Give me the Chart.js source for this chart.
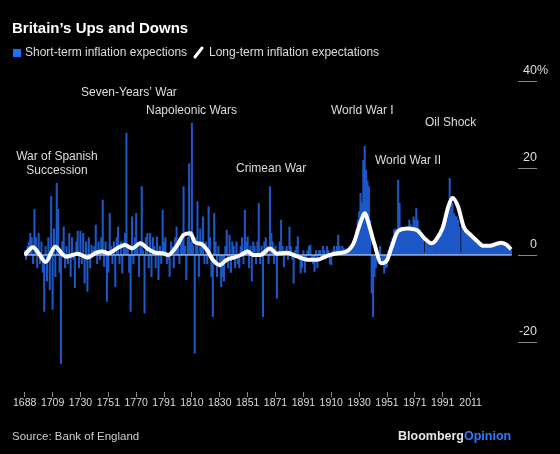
<!DOCTYPE html>
<html>
<head>
<meta charset="utf-8">
<script src="https://cdn.jsdelivr.net/npm/chart.js@4.4.1/dist/chart.umd.min.js"></script>
<style>
  html, body { margin: 0; padding: 0; background: #000; }
  #wrap { position: relative; width: 560px; height: 454px; }
</style>
</head>
<body>
<div id="wrap"><canvas id="chart"></canvas></div>
<script>
// x labels, one every 20 bars
const tickYears = ['1688', '1709', '1730', '1751', '1770', '1791', '1810', '1830', '1851',
  '1871', '1891', '1910', '1930', '1951', '1971', '1991', '2011'];
const yTicks = [-20, 0, 20, 40];

// short-term inflation expectations (%), one bar each
const shortTerm = [
  1, -1, 2, 3, 5, 4, -2, 10.5, 4, -3,
  5, -2, 3, -4, -13, 2, -6, 4, -8, 13.5,
  -12.5, 6, -5, 16.5, 10.5, -4, -25, 3, 6.5, -3,
  2, -2, 5, -5, 4, -1, -7.5, 3, 5.5, -3,
  5.5, -2, 5, -6.5, 3, -8.4, 4, -3, 2.3, 1,
  2, 6.9, -2, 3, -1, 4, 12.6, -2.7, 3, -10.7,
  -4, 9.6, 2, -2, 3, -7.3, 4, 6.5, -2, 3,
  -4.2, 3, 5, 28, 2, -4, -13, 8.8, -2, 4,
  9.6, 2, -5, 3, 15.7, 1, -13.4, 4, 5, -3,
  5, -5, 4, 2, -3, 4.2, -5.7, 2, -2, 10.3,
  3, 4, -2, -1, -5, 3, 2, -3, 4, 6.5,
  2, -2, 3, 5, 15.7, 2, -5.7, 4, 21, 3,
  30.3, 2, -22.6, 4, 12.3, -5, 6, 3, 8.8, -2,
  3, -2, 11.1, 4, -5, -14.2, 9.6, 3, -5, 2,
  -3, -7.3, -5, -6, 2, 5.7, -3, 4.6, -4, 3,
  2, -3, 3, -2, -3, 2, 4, -2, 10.3, 3,
  4.2, -3, 2, -6, 3, 2, -2, 3, 11.9, -2,
  2, -14.2, 3, 4, 2, -2, 15.7, 5, 3, -2,
  2, -10, 1, 3, 8, 2, -2.7, 1, 2, -1,
  6.5, 2, -1, -6.5, 1, 2, 4.2, -1, -4.2, -3,
  1, -4, -1, 1, 2, 2.3, -1, -2, -3.8, 1,
  -3, 1, 1, -1, 2, 1, -1, 2, 1, -2,
  -2.3, 1, 2, 1, 2, 4.6, 2, 1, 2, 1.5,
  1, 1.5, 1, 2, 1, 2, 3, 4.2, 5.7, 8,
  10, 14.2, 12, 21.8, 25, 19.5, 17, 15.7, 8, -8.8,
  -14.2, -5, -3, 1, -2, 2, -1, -2, -4.2, -3,
  -2.7, 1, 2, 3, 4, 5.7, 6, 5, 17.2, 11.9,
  6.5, 6, 5.7, 5.5, 5.7, 6, 8, 7, 6, 8.8,
  8, 10.7, 8, 6, 5, 4, 3.5, 0.5, 3, 3.3,
  2.7, 2.5, 2.7, 3, 2.8, 3.5, 4, 5, 5.7, 5.7,
  5.7, 6.5, 7, 8, 11.9, 17.6, 13.4, 11.9, 9.6, 9,
  8.8, 8, 6.5, 0.5, 8, 6.5, 5.7, 5, 4.8, 4.6,
  4.5, 4.2, 4, 3.8, 3.6, 3.3, 3.1, 2.8, 2.6, 2.3,
  2.1, 1.9, 1.9, 1.8, 1.9, 2, 1.9, 2, 2.2, 2.3,
  2.5, 2.7, 2.6, 2.4, 2.3, 2.2, 2, 1.8, 1.5, 1.1
];

// long-term expectations: bar position and value of the smooth white line
const longTermAt = [0, 6, 10, 15, 22, 27, 30, 38, 45, 51, 56, 60, 66, 72, 77, 83, 88, 94, 99, 103,
  109, 114, 119, 122, 127, 131, 135, 140, 145, 151, 155, 160, 164, 169, 176, 181, 188, 196, 203, 210,
  217, 224, 231, 236, 241, 244, 247, 251, 256, 260, 263, 268, 275, 282, 287, 292, 295, 300, 304, 307,
  311, 315, 320, 325, 329, 334, 338, 342, 346, 349];
const longTermVal = [0, 1.8, 0.4, -1.6, 1.9, 0.2, -0.4, 0.3, -0.6, 0.5, 0.8, 0.4, 1.5, 2.3, 1.5, 2.7, 1.5, 0.5, 0.4, 0,
  2, 4.6, 5, 3, 2.5, 1.1, -1.1, -2.3, -1.1, -0.5, 0, 0.8, 0, 0, 1.5, 0.3, 0.5, -0.4, -1.1, -1.1,
  -0.2, 0.4, 0.8, 2.7, 7.5, 9.6, 7, 2.5, -1.9, -1.2, 1.5, 5.5, 6.1, 5.6, 3.8, 2.7, 3.4, 6.3, 11.1, 13.1,
  11.1, 6.5, 4.6, 3.1, 2.1, 2.1, 2.5, 2.8, 2.3, 1.3];

const FAMILY = '"Liberation Sans", Arial, sans-serif';
const BLUE = '#1d58c8';
const font = (size, weight) => (weight || 'normal') + ' ' + size + 'px ' + FAMILY;

// title, legend, event labels, y ticks, footer
const decor = {
  id: 'decor',
  afterDraw(chart) {
    const ctx = chart.ctx;
    const area = chart.chartArea;
    const y = chart.scales.y;
    ctx.save();

    ctx.fillStyle = '#fff';
    ctx.textBaseline = 'alphabetic';
    ctx.font = font(15, 'bold');
    ctx.fillText('Britain’s Ups and Downs', 12, 33);

    // legend
    ctx.fillStyle = '#1f6fff';
    ctx.fillRect(13, 49, 8, 8);
    ctx.font = font(12);
    ctx.textBaseline = 'middle';
    ctx.fillStyle = '#ddd';
    ctx.fillText('Short-term inflation expections', 25, 53);
    ctx.strokeStyle = '#fff';
    ctx.lineWidth = 3;
    ctx.lineCap = 'round';
    ctx.beginPath();
    ctx.moveTo(195, 57);
    ctx.lineTo(202, 48);
    ctx.stroke();
    ctx.fillText('Long-term inflation expectations', 209, 53);

    // y ticks on the right
    ctx.strokeStyle = '#888';
    ctx.lineWidth = 1;
    ctx.lineCap = 'butt';
    ctx.font = font(12.5);
    ctx.textAlign = 'right';
    yTicks.forEach(v => {
      const py = Math.round(y.getPixelForValue(v)) + 0.5;
      ctx.beginPath();
      ctx.moveTo(area.right, py);
      ctx.lineTo(537, py);
      ctx.stroke();
      const txt = v === 40 ? '40%' : String(v);
      const shift = v === 40 ? ctx.measureText('%').width : 0;
      ctx.fillText(txt, 537 + shift, py - 11);
    });

    // event labels
    ctx.font = font(12);
    ctx.fillStyle = '#ddd';
    ctx.textAlign = 'center';
    ctx.fillText('War of Spanish', 57, 157);
    ctx.fillText('Succession', 57, 171);
    ctx.textAlign = 'left';
    ctx.fillText('Seven-Years’ War', 81, 93);
    ctx.fillText('Napoleonic Wars', 146, 111);
    ctx.fillText('Crimean War', 236, 169);
    ctx.fillText('World War I', 331, 111);
    ctx.fillText('World War II', 375, 161);
    ctx.fillText('Oil Shock', 425, 123);

    // footer
    ctx.font = font(11.5);
    ctx.fillStyle = '#ccc';
    ctx.fillText('Source: Bank of England', 12, 437);
    ctx.font = font(12.5, 'bold');
    ctx.fillStyle = '#e6e6e6';
    ctx.fillText('Bloomberg', 398, 437);
    const w = ctx.measureText('Bloomberg').width;
    ctx.fillStyle = '#2f7bff';
    ctx.fillText('Opinion', 398 + w, 437);

    ctx.restore();
  }
};

new Chart(document.getElementById('chart'), {
  type: 'bar',
  data: {
    datasets: [
      {
        type: 'line',
        label: 'Long-term inflation expectations',
        data: longTermAt.map((x, i) => ({ x: x, y: longTermVal[i] })),
        borderColor: '#fff',
        borderWidth: 4,
        pointRadius: 0,
        cubicInterpolationMode: 'monotone',
        order: 0
      },
      {
        type: 'line',
        label: 'zero',
        data: [{ x: -0.5, y: 0 }, { x: shortTerm.length - 0.5, y: 0 }],
        borderColor: '#d8e4ff',
        borderWidth: 1,
        pointRadius: 0,
        order: 1
      },
      {
        label: 'Short-term inflation expections',
        data: shortTerm.map((v, i) => ({ x: i, y: v })),
        backgroundColor: BLUE,
        barPercentage: 1,
        categoryPercentage: 1,
        order: 2
      }
    ]
  },
  options: {
    responsive: true,
    maintainAspectRatio: false,
    animation: false,
    devicePixelRatio: 1,
    layout: { padding: { top: 72.3, left: 24, right: 42, bottom: 44.4 } },
    plugins: { legend: { display: false }, tooltip: { enabled: false } },
    scales: {
      x: {
        type: 'linear',
        min: -0.5,
        max: 354,
        offset: false,
        afterBuildTicks: axis => { axis.ticks = tickYears.map((_, k) => ({ value: k * 20 })); },
        ticks: {
          callback: (v) => tickYears[v / 20],
          color: '#ddd',
          font: { size: 10.5, family: FAMILY },
          maxRotation: 0,
          autoSkip: false,
          padding: 0
        },
        grid: { drawOnChartArea: false, offset: false, tickLength: 5, color: '#888' },
        border: { display: false }
      },
      y: { display: false, min: -31.5, max: 42 }
    }
  },
  plugins: [decor]
});
</script>
</body>
</html>
